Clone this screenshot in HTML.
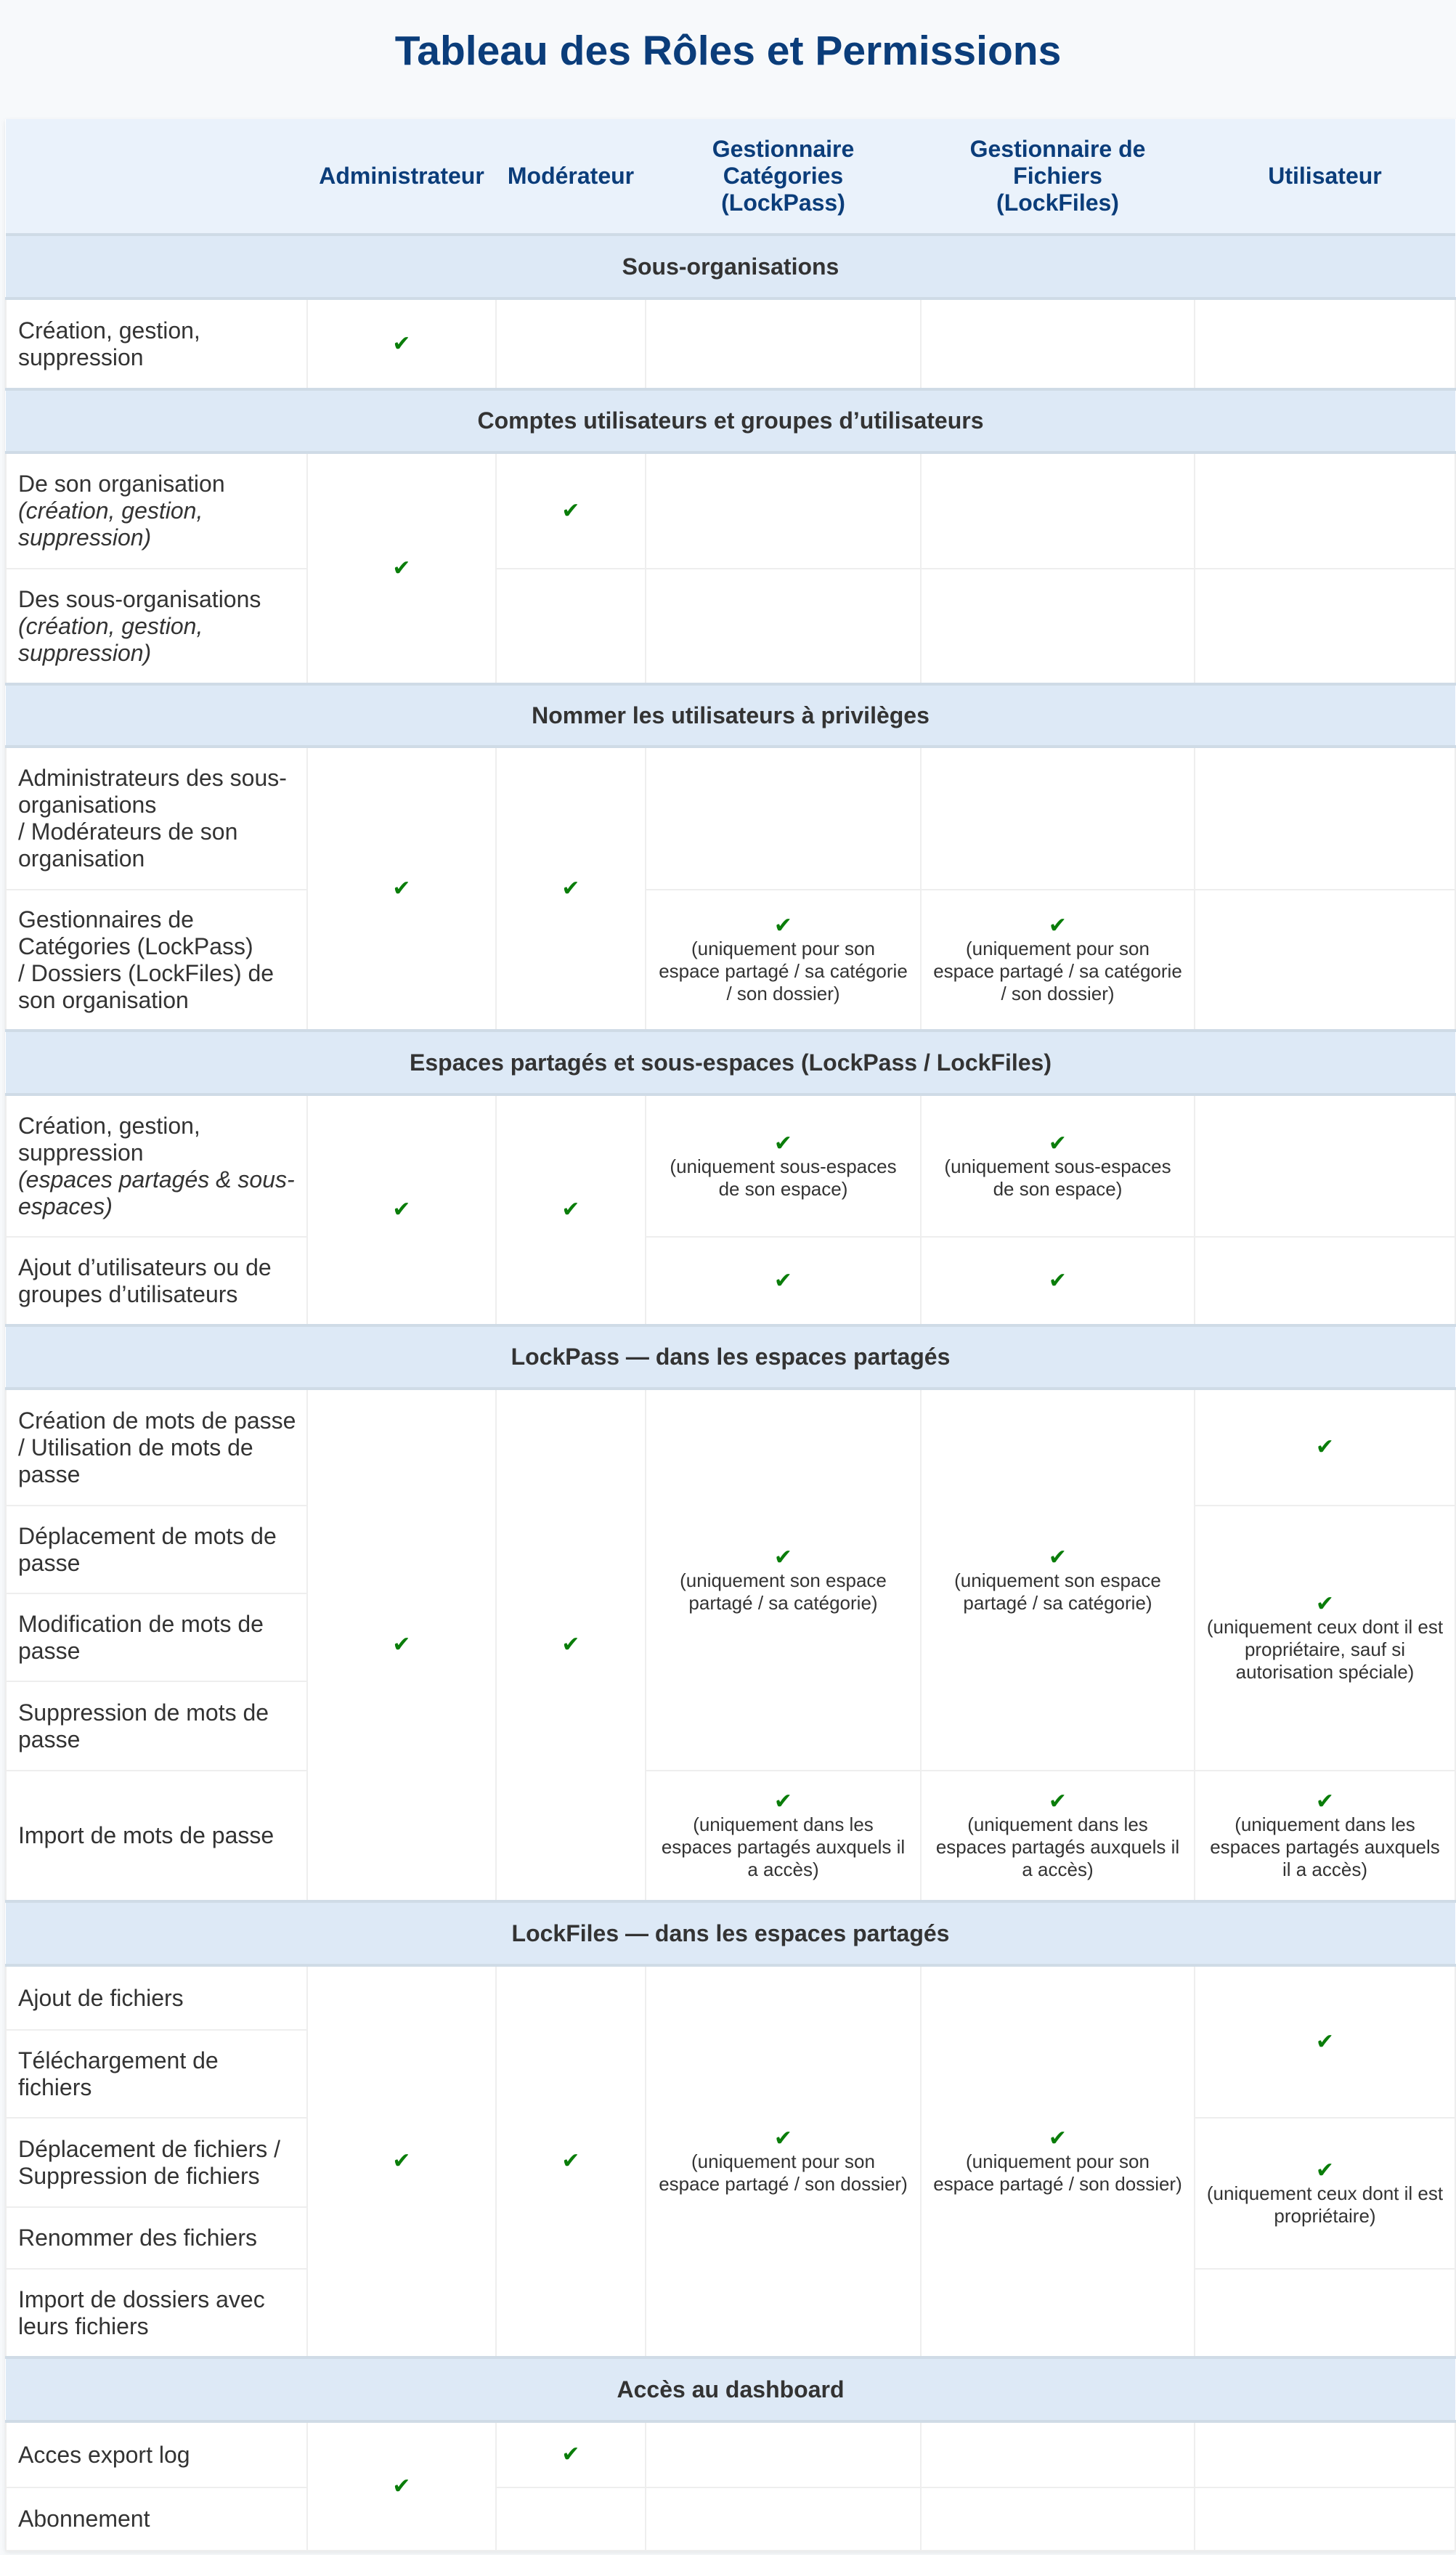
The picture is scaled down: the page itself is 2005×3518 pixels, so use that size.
<!DOCTYPE html>
<html><head><meta charset="utf-8"><style>
html,body{margin:0;padding:0;}
body{width:2005px;height:3518px;background:#f7f9fb;font-family:"Liberation Sans",sans-serif;position:relative;overflow:hidden;}
h1{position:absolute;top:0;left:0;width:2005px;height:140px;line-height:140px;margin:0;text-align:center;font-size:57px;font-weight:bold;color:#0b3d7a;}
table{position:absolute;left:7px;top:164px;width:1996px;border-collapse:collapse;table-layout:fixed;background:#fff;box-shadow:0 2px 6px rgba(0,0,0,.08);}
td,th{border:2px solid #eeeeee;padding:0 6px;vertical-align:middle;text-align:center;color:#333;}
td.l{text-align:left;font-size:32px;line-height:37px;padding-left:16px;padding-right:8px;}
th{background:#eaf2fb;color:#0b3d7a;font-size:32px;line-height:37px;font-weight:bold;border:none;border-bottom:4px solid #cfdbe6;padding:0 8px;}
tr.s td{background:#dde9f6;font-weight:bold;font-size:32px;color:#333;border-top:4px solid #cfdbe6;border-bottom:4px solid #cfdbe6;border-left:none;border-right:none;}
.c{color:#0a7d0a;font-size:30px;line-height:32px;}
.n{font-size:26px;line-height:31px;color:#333;display:block;white-space:nowrap;}
</style></head><body>
<h1>Tableau des Rôles et Permissions</h1>
<table>
<colgroup><col style="width:415px"><col style="width:260px"><col style="width:206px"><col style="width:379px"><col style="width:377px"><col style="width:359px"></colgroup>
<tr style="height:159px"><th></th><th>Administrateur</th><th>Modérateur</th><th>Gestionnaire<br>Catégories<br>(LockPass)</th><th>Gestionnaire de<br>Fichiers<br>(LockFiles)</th><th>Utilisateur</th></tr>
<tr class="s" style="height:88px"><td colspan="6">Sous-organisations</td></tr>
<tr style="height:125px"><td class="l">Création, gestion,<br>suppression</td><td><span class="c">✔</span></td><td></td><td></td><td></td><td></td></tr>
<tr class="s" style="height:87px"><td colspan="6">Comptes utilisateurs et groupes d’utilisateurs</td></tr>
<tr style="height:160px"><td class="l">De son organisation<br><i>(création, gestion,<br>suppression)</i></td><td rowspan="2"><span class="c">✔</span></td><td><span class="c">✔</span></td><td></td><td></td><td></td></tr>
<tr style="height:159px"><td class="l">Des sous-organisations<br><i>(création, gestion,<br>suppression)</i></td><td></td><td></td><td></td><td></td></tr>
<tr class="s" style="height:86px"><td colspan="6">Nommer les utilisateurs à privilèges</td></tr>
<tr style="height:197px"><td class="l">Administrateurs des sous-<br>organisations<br>/ Modérateurs de son<br>organisation</td><td rowspan="2"><span class="c">✔</span></td><td rowspan="2"><span class="c">✔</span></td><td></td><td></td><td></td></tr>
<tr style="height:194px"><td class="l">Gestionnaires de<br>Catégories (LockPass)<br>/ Dossiers (LockFiles) de<br>son organisation</td><td><span class="c">✔</span><span class="n">(uniquement pour son<br>espace partagé / sa catégorie<br>/ son dossier)</span></td><td><span class="c">✔</span><span class="n">(uniquement pour son<br>espace partagé / sa catégorie<br>/ son dossier)</span></td><td></td></tr>
<tr class="s" style="height:88px"><td colspan="6">Espaces partagés et sous-espaces (LockPass / LockFiles)</td></tr>
<tr style="height:196px"><td class="l">Création, gestion,<br>suppression<br><i>(espaces partagés &amp; sous-<br>espaces)</i></td><td rowspan="2"><span class="c">✔</span></td><td rowspan="2"><span class="c">✔</span></td><td><span class="c">✔</span><span class="n">(uniquement sous-espaces<br>de son espace)</span></td><td><span class="c">✔</span><span class="n">(uniquement sous-espaces<br>de son espace)</span></td><td></td></tr>
<tr style="height:122px"><td class="l">Ajout d’utilisateurs ou de<br>groupes d’utilisateurs</td><td><span class="c">✔</span></td><td><span class="c">✔</span></td><td></td></tr>
<tr class="s" style="height:87px"><td colspan="6">LockPass — dans les espaces partagés</td></tr>
<tr style="height:161px"><td class="l">Création de mots de passe<br>/ Utilisation de mots de<br>passe</td><td rowspan="5"><span class="c">✔</span></td><td rowspan="5"><span class="c">✔</span></td><td rowspan="4"><span class="c">✔</span><span class="n">(uniquement son espace<br>partagé / sa catégorie)</span></td><td rowspan="4"><span class="c">✔</span><span class="n">(uniquement son espace<br>partagé / sa catégorie)</span></td><td><span class="c">✔</span></td></tr>
<tr style="height:121px"><td class="l">Déplacement de mots de<br>passe</td><td rowspan="3"><span class="c">✔</span><span class="n">(uniquement ceux dont il est<br>propriétaire, sauf si<br>autorisation spéciale)</span></td></tr>
<tr style="height:121px"><td class="l">Modification de mots de<br>passe</td></tr>
<tr style="height:123px"><td class="l">Suppression de mots de<br>passe</td></tr>
<tr style="height:180px"><td class="l">Import de mots de passe</td><td><span class="c">✔</span><span class="n">(uniquement dans les<br>espaces partagés auxquels il<br>a accès)</span></td><td><span class="c">✔</span><span class="n">(uniquement dans les<br>espaces partagés auxquels il<br>a accès)</span></td><td><span class="c">✔</span><span class="n">(uniquement dans les<br>espaces partagés auxquels<br>il a accès)</span></td></tr>
<tr class="s" style="height:88px"><td colspan="6">LockFiles — dans les espaces partagés</td></tr>
<tr style="height:89px"><td class="l">Ajout de fichiers</td><td rowspan="5"><span class="c">✔</span></td><td rowspan="5"><span class="c">✔</span></td><td rowspan="5"><span class="c">✔</span><span class="n">(uniquement pour son<br>espace partagé / son dossier)</span></td><td rowspan="5"><span class="c">✔</span><span class="n">(uniquement pour son<br>espace partagé / son dossier)</span></td><td rowspan="2"><span class="c">✔</span></td></tr>
<tr style="height:121px"><td class="l">Téléchargement de<br>fichiers</td></tr>
<tr style="height:123px"><td class="l">Déplacement de fichiers /<br>Suppression de fichiers</td><td rowspan="2"><span class="c">✔</span><span class="n">(uniquement ceux dont il est<br>propriétaire)</span></td></tr>
<tr style="height:85px"><td class="l">Renommer des fichiers</td></tr>
<tr style="height:122px"><td class="l">Import de dossiers avec<br>leurs fichiers</td><td></td></tr>
<tr class="s" style="height:88px"><td colspan="6">Accès au dashboard</td></tr>
<tr style="height:91px"><td class="l">Acces export log</td><td rowspan="2"><span class="c">✔</span></td><td><span class="c">✔</span></td><td></td><td></td><td></td></tr>
<tr style="height:87px"><td class="l">Abonnement</td><td></td><td></td><td></td><td></td></tr>
</table>
</body></html>
